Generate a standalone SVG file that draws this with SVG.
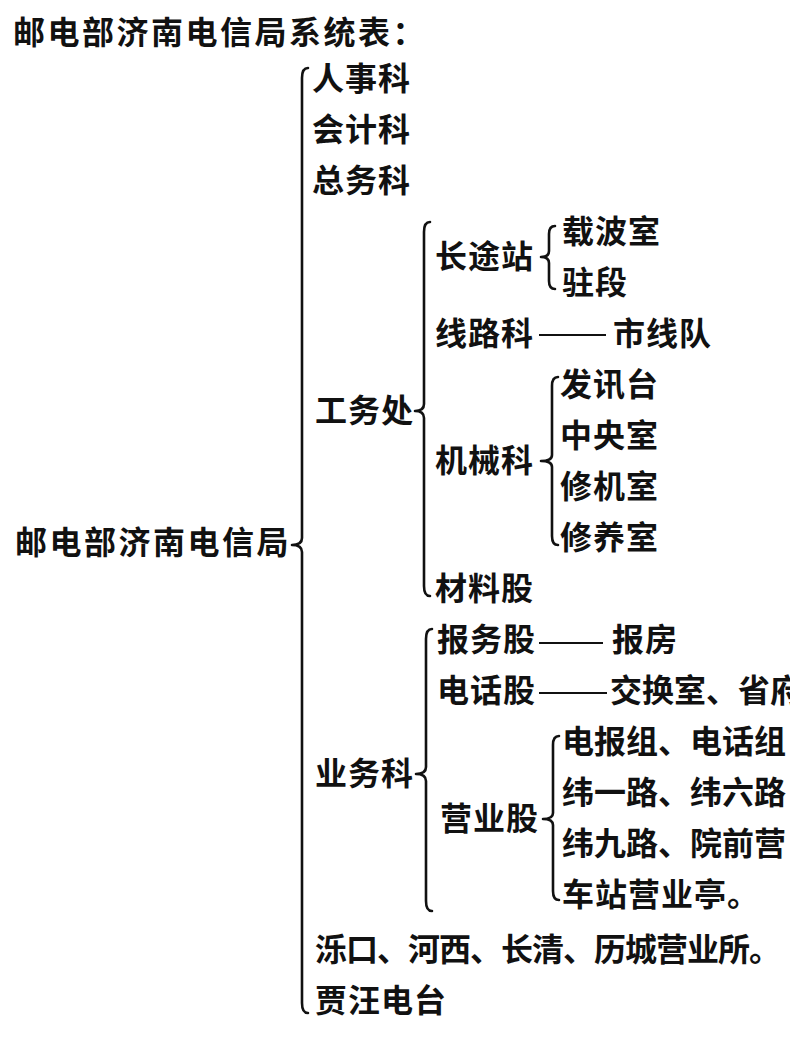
<svg xmlns="http://www.w3.org/2000/svg" width="790" height="1037" viewBox="0 0 790 1037">
<style>
.t{font-family:"Noto Sans CJK SC","Noto Sans CJK TC",sans-serif;font-size:32px;font-weight:700;letter-spacing:1px;fill:#111}
.w{letter-spacing:2.5px}
.n{letter-spacing:0px}
.c{letter-spacing:-1px}
.b{fill:none;stroke:#111;stroke-width:2.6;stroke-linecap:round;stroke-linejoin:round}
.d{stroke:#111;stroke-width:2.2}
</style>
<rect width="790" height="1037" fill="#fff"/>
<g id="connectors">
<path class="b" d="M308,68 Q302,68 302,78 L302,538 Q302,545 292,545 Q302,545 302,552 L302,1003 Q302,1013 308,1013"/>
<path class="b" d="M430,222 Q424,222 424,232 L424,404 Q424,411 415,411 Q424,411 424,418 L424,586 Q424,596 430,596"/>
<path class="b" d="M555,226 Q549,226 549,234 L549,251 Q549,257 541,257 Q549,257 549,263 L549,281 Q549,289 555,289"/>
<path class="b" d="M558,377 Q552,377 552,386 L552,455 Q552,461 541,461 Q552,461 552,467 L552,536 Q552,545 558,545"/>
<path class="b" d="M432,629 Q426,629 426,639 L426,767 Q426,774 416,774 Q426,774 426,781 L426,901 Q426,911 432,911"/>
<path class="b" d="M559,736 Q553,736 553,745 L553,813 Q553,819 543,819 Q553,819 553,825 L553,891 Q553,900 559,900"/>
<line class="d" x1="539" y1="335" x2="606" y2="335"/>
<line class="d" x1="539" y1="643" x2="603" y2="643"/>
<line class="d" x1="539" y1="693" x2="607" y2="693"/>
</g>
<g id="title"><text class="t w" x="13" y="44">邮电部济南电信局系统表：</text></g>
<g id="root"><text class="t w" x="15" y="554">邮电部济南电信局</text></g>
<g id="n-renshi"><text class="t" x="312" y="90">人事科</text></g>
<g id="n-kuaiji"><text class="t" x="312" y="141">会计科</text></g>
<g id="n-zongwu"><text class="t" x="312" y="192">总务科</text></g>
<g id="n-gongwu"><text class="t" x="315" y="422">工务处</text></g>
<g id="n-changtu"><text class="t" x="435" y="268">长途站</text></g>
<g id="n-zaibo"><text class="t" x="562" y="243">载波室</text></g>
<g id="n-zhuduan"><text class="t" x="562" y="294">驻段</text></g>
<g id="n-xianlu"><text class="t" x="435" y="345">线路科</text></g>
<g id="n-shixian"><text class="t" x="613" y="345">市线队</text></g>
<g id="n-jixie"><text class="t" x="435" y="472">机械科</text></g>
<g id="n-faxun"><text class="t" x="560" y="396">发讯台</text></g>
<g id="n-zhongyang"><text class="t" x="560" y="447">中央室</text></g>
<g id="n-xiuji"><text class="t" x="560" y="498">修机室</text></g>
<g id="n-xiuyang"><text class="t" x="560" y="549">修养室</text></g>
<g id="n-cailiao"><text class="t" x="435" y="600">材料股</text></g>
<g id="n-yewu"><text class="t" x="315" y="785">业务科</text></g>
<g id="n-baowu"><text class="t" x="437" y="651">报务股</text></g>
<g id="n-baofang"><text class="t" x="612" y="651">报房</text></g>
<g id="n-dianhua"><text class="t" x="437" y="702">电话股</text></g>
<g id="n-jiaohuan"><text class="t n" x="610" y="702">交换室、省府</text></g>
<g id="n-yingye"><text class="t" x="440" y="830">营业股</text></g>
<g id="n-yy1"><text class="t n" x="562" y="753">电报组、电话组</text></g>
<g id="n-yy2"><text class="t n" x="562" y="804">纬一路、纬六路</text></g>
<g id="n-yy3"><text class="t n" x="562" y="855">纬九路、院前营</text></g>
<g id="n-yy4"><text class="t" x="562" y="906">车站营业亭。</text></g>
<g id="n-luokou"><text class="t c" x="315" y="961">泺口、河西、长清、历城营业所。</text></g>
<g id="n-jiawang"><text class="t" x="315" y="1012">贾汪电台</text></g>
</svg>
